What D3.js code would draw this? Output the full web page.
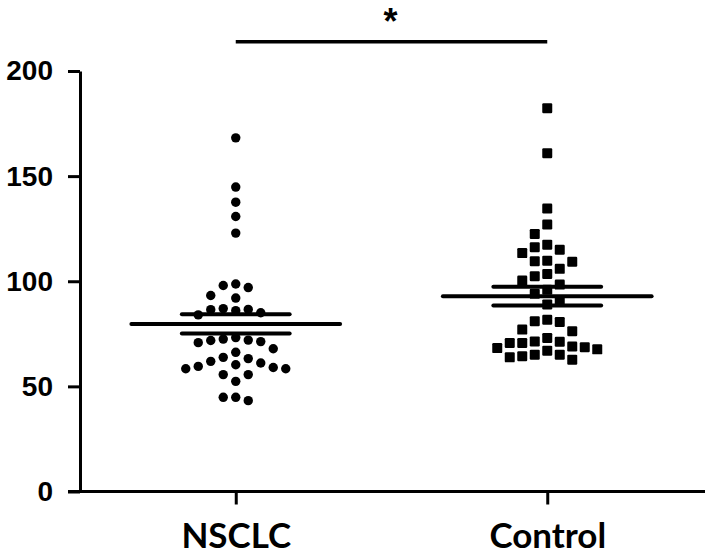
<!DOCTYPE html>
<html>
<head>
<meta charset="utf-8">
<script src="https://cdn.jsdelivr.net/npm/d3@7"></script>
<style>
  html, body { margin: 0; padding: 0; background: #fff; }
  svg { display: block; }
</style>
</head>
<body>
<svg id="chart" width="709" height="556"></svg>
<script>
// ---- data ----
const categories = ["NSCLC", "Control"];
const nsclcValues = [
  168.2, 144.8, 137.6, 130.8, 122.9,
  98.7, 98.0, 97.0, 93.2, 92.0,
  87.0, 86.6, 86.5, 86.0, 85.0, 84.0,
  73.2, 72.5, 72.0, 71.8, 71.3, 70.8,
  67.9, 66.2, 63.8, 63.2, 61.9, 61.1, 60.3, 59.5, 59.0, 58.4, 58.4,
  55.6, 55.6, 52.4, 44.8, 44.8, 43.2
];
const controlValues = [
  182.3, 160.9, 134.6, 127.0, 122.5, 117.4, 116.2, 115.0, 113.4,
  109.8, 109.5, 109.3, 105.9, 103.5, 102.4, 100.3, 98.4,
  96.0, 94.0, 91.0, 89.0,
  81.7, 81.0, 80.6, 77.0, 76.2, 73.0, 71.4, 71.2, 70.6, 70.6,
  69.0, 68.6, 68.2, 67.6, 67.0, 65.1, 65.1, 64.3, 63.8, 62.7
];
const groupMeans = [79.7, 92.9];
const groupSEMs = [4.6, 4.45];
const yTicks = [0, 50, 100, 150, 200];
const significanceLabel = "*";

// ---- layout ----
const svg = d3.select("#chart");
const x = d3.scalePoint().domain(categories).range([80, 703]).padding(0.5);
const y = d3.scaleLinear().domain([0, 200]).range([491.5, 71]);

// y axis
const yAxis = svg.append("g")
  .attr("transform", "translate(80,0)")
  .call(d3.axisLeft(y).tickValues(yTicks).tickSize(12).tickSizeOuter(0).tickPadding(15));
yAxis.select(".domain").attr("stroke", "#000").attr("stroke-width", 3);
yAxis.selectAll(".tick line").attr("stroke", "#000").attr("stroke-width", 3);
yAxis.selectAll(".tick text")
  .attr("fill", "#000")
  .style("font-family", "'Liberation Sans', Arial, sans-serif")
  .style("font-weight", "700")
  .style("font-size", "28px");

// x axis
const xAxis = svg.append("g")
  .attr("transform", "translate(0," + y(0) + ")")
  .call(d3.axisBottom(x).tickSize(13).tickSizeOuter(0));
xAxis.select(".domain").attr("stroke", "#000").attr("stroke-width", 3)
  .attr("d", "M68,0H705");
xAxis.selectAll(".tick line").attr("stroke", "#000").attr("stroke-width", 3);
xAxis.selectAll(".tick text")
  .attr("fill", "#000")
  .attr("y", 56)
  .attr("dy", "0")
  .style("font-family", "Lato, 'Open Sans', sans-serif")
  .style("font-weight", "700")
  .style("font-size", "35px");

// simple column-grid dodge (beeswarm-like)
function swarm(values, cx, step, minSep) {
  const sorted = values.slice().sort((a, b) => b - a);
  const cols = new Map();
  return sorted.map(v => {
    const py = y(v);
    for (let k = 0; k < 50; k++) {
      const cands = k === 0 ? [0] : [-k, k];
      for (const c of cands) {
        const arr = cols.get(c) || [];
        if (arr.every(q => Math.abs(q - py) >= minSep)) {
          arr.push(py); cols.set(c, arr);
          return { v, x: cx + c * step, y: py };
        }
      }
    }
  });
}

const step = 12.5;
const nsclcPts = swarm(nsclcValues, x("NSCLC"), step, 12);
const controlPts = swarm(controlValues, x("Control"), step, 12);

svg.append("g").selectAll("circle")
  .data(nsclcPts).join("circle")
  .attr("cx", d => d.x).attr("cy", d => d.y).attr("r", 4.7)
  .attr("fill", "#000");

const sq = 10;
svg.append("g").selectAll("rect")
  .data(controlPts).join("rect")
  .attr("x", d => d.x - sq / 2).attr("y", d => d.y - sq / 2)
  .attr("width", sq).attr("height", sq).attr("rx", 1.2)
  .attr("fill", "#000");

// mean and SEM lines
const bw = x.step();
const summary = categories.map((c, i) => ({ c, mean: groupMeans[i], sem: groupSEMs[i] }));
const sg = svg.append("g").attr("stroke", "#000").attr("stroke-width", 4).attr("stroke-linecap", "round");
summary.forEach(s => {
  const cx = x(s.c);
  sg.append("line").attr("x1", cx - 0.335 * bw).attr("x2", cx + 0.335 * bw)
    .attr("y1", y(s.mean)).attr("y2", y(s.mean));
  [s.mean + s.sem, s.mean - s.sem].forEach(v => {
    sg.append("line").attr("x1", cx - 0.173 * bw).attr("x2", cx + 0.173 * bw)
      .attr("y1", y(v)).attr("y2", y(v));
  });
});

// significance bar
const barY = 41.7;
svg.append("line")
  .attr("x1", x("NSCLC")).attr("x2", x("Control"))
  .attr("y1", barY).attr("y2", barY)
  .attr("stroke", "#000").attr("stroke-width", 3.5);
svg.append("text")
  .attr("x", (x("NSCLC") + x("Control")) / 2 - 1)
  .attr("y", 34)
  .attr("text-anchor", "middle")
  .style("font-family", "'Liberation Sans', Arial, sans-serif")
  .style("font-weight", "700")
  .style("font-size", "36px")
  .text(significanceLabel);
</script>
</body>
</html>
